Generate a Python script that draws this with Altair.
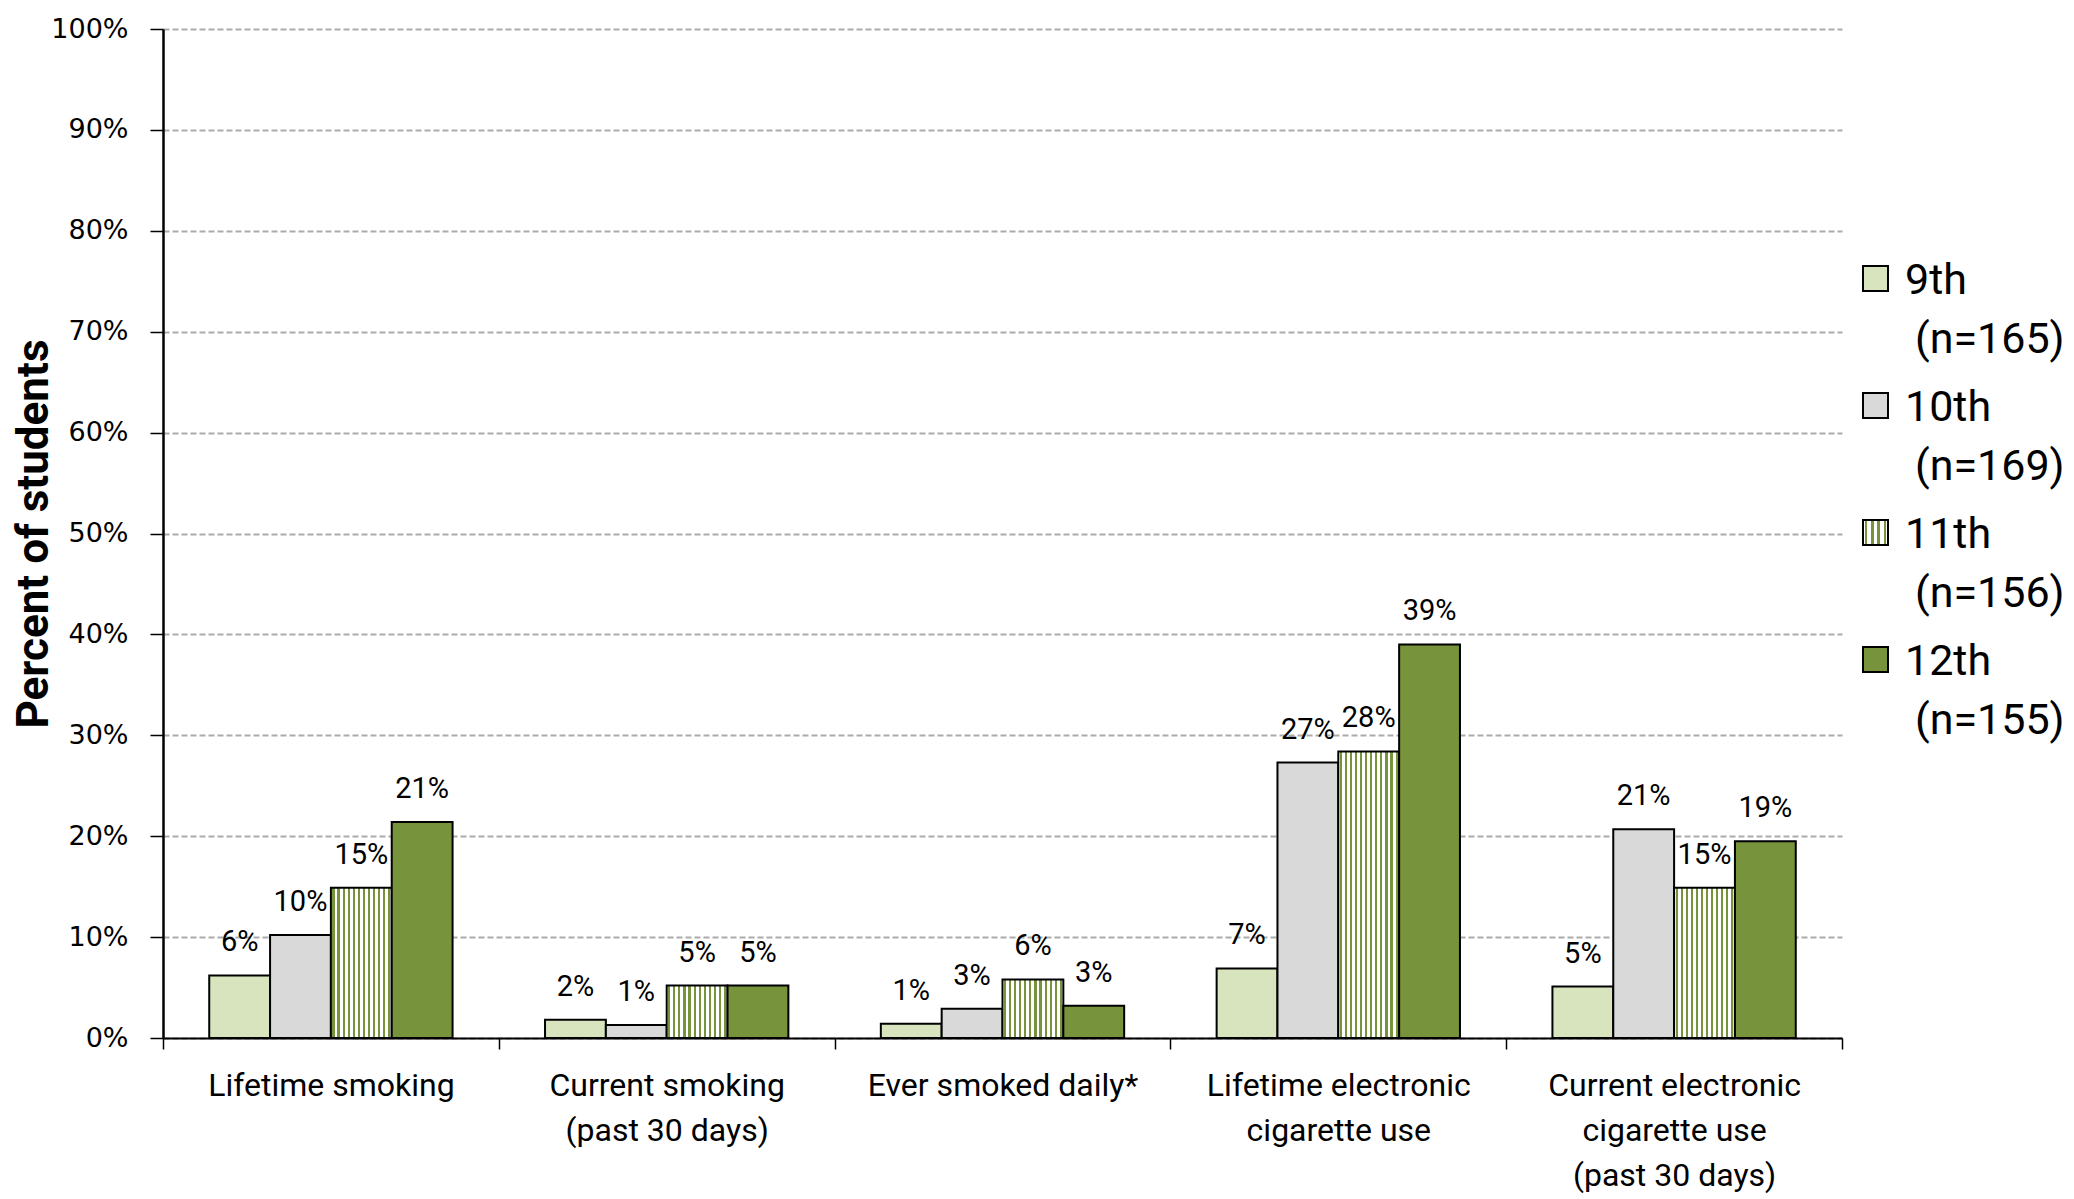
import altair as alt
import pandas as pd

categories = [
    "Lifetime smoking",
    "Current smoking|(past 30 days)",
    "Ever smoked daily*",
    "Lifetime electronic|cigarette use",
    "Current electronic|cigarette use|(past 30 days)",
]
grades = ["9th", "10th", "11th", "12th"]
grade_n = [165, 169, 156, 155]

values_9th = [6.2, 1.8, 1.4, 6.9, 5.1]
values_10th = [10.2, 1.3, 2.9, 27.3, 20.7]
values_11th = [14.9, 5.2, 5.8, 28.4, 14.9]
values_12th = [21.4, 5.2, 3.2, 39.0, 19.5]

labels_9th = ["6%", "2%", "1%", "7%", "5%"]
labels_10th = ["10%", "1%", "3%", "27%", "21%"]
labels_11th = ["15%", "5%", "6%", "28%", "15%"]
labels_12th = ["21%", "5%", "3%", "39%", "19%"]

y_ticks = [0, 10, 20, 30, 40, 50, 60, 70, 80, 90, 100]

fill_colors = ["#d7e4bd", "#d9d9d9", "#ffffff", "#77933c"]
stripe_color = "#77933c"

rows = []
for g, vals, labs in zip(
    grades,
    [values_9th, values_10th, values_11th, values_12th],
    [labels_9th, labels_10th, labels_11th, labels_12th],
):
    for c, v, l in zip(categories, vals, labs):
        rows.append({"category": c, "grade": g, "value": v, "label": l})
df = pd.DataFrame(rows)

legend_df = pd.DataFrame(
    {"grade": grades, "line1": grades, "line2": [f"(n={n})" for n in grade_n]}
)


def stripes(n, frac=0.42):
    stops = [{"offset": 0, "color": "#ffffff"}]
    for k in range(n):
        a = (k + 0.5 - frac / 2) / n
        b = (k + 0.5 + frac / 2) / n
        stops += [
            {"offset": round(a, 4), "color": "#ffffff"},
            {"offset": round(a, 4), "color": stripe_color},
            {"offset": round(b, 4), "color": stripe_color},
            {"offset": round(b, 4), "color": "#ffffff"},
        ]
    stops.append({"offset": 1, "color": "#ffffff"})
    return {"gradient": "linear", "x1": 0, "y1": 0, "x2": 1, "y2": 0, "stops": stops}


bar_stripes = stripes(12)
leg_stripes = stripes(4)


def js_obj(o):
    if isinstance(o, dict):
        return "{" + ", ".join(f"{k}: {js_obj(v)}" for k, v in o.items()) + "}"
    if isinstance(o, list):
        return "[" + ", ".join(js_obj(v) for v in o) + "]"
    if isinstance(o, str):
        return "'" + o + "'"
    return str(o)


fill_range = [fill_colors[0], fill_colors[1], {"expr": js_obj(leg_stripes)}, fill_colors[3]]
fill_scale = alt.Scale(domain=grades, range=fill_range)

x_enc = alt.X(
    "category:N",
    sort=categories,
    scale=alt.Scale(paddingInner=0, paddingOuter=0),
    axis=alt.Axis(
        title=None,
        labelExpr="split(datum.label, '|')",
        labelAngle=0,
        tickBand="extent",
        labelFont="Roboto",
        labelFontSize=32,
        labelLineHeight=45,
        labelPadding=21,
        labelColor="black",
        labelLimit=500,
        tickSize=11,
        tickColor="black",
        tickWidth=1.5,
        domainColor="black",
        domainWidth=2,
        grid=False,
    ),
)
xo_enc = alt.XOffset(
    "grade:N", sort=grades, scale=alt.Scale(paddingInner=0, paddingOuter=0.76)
)
y_enc = alt.Y(
    "value:Q",
    scale=alt.Scale(domain=[0, 100]),
    title="Percent of students",
    axis=alt.Axis(
        values=y_ticks,
        labelExpr="datum.value + '%'",
        labelFont="DejaVu Sans",
        labelFontSize=27,
        labelColor="black",
        labelPadding=22,
        tickSize=13,
        tickColor="black",
        tickWidth=1.5,
        domainColor="black",
        domainWidth=2.5,
        grid=True,
        gridColor="#ababab",
        gridDash=[6, 3],
        gridWidth=1.8,
        titleFont="Roboto",
        titleFontSize=44,
        titleFontWeight="bold",
        titleColor="black",
        titlePadding=-6,
    ),
)

fill_enc = alt.condition(
    "datum.grade === '11th'",
    alt.value(bar_stripes),
    alt.Fill("grade:N", scale=fill_scale, legend=None),
)

base = alt.Chart(df)
bars = base.mark_bar(stroke="black", strokeWidth=2).encode(
    x=x_enc, xOffset=xo_enc, y=y_enc, fill=fill_enc
)
texts = base.mark_text(
    font="Roboto", fontSize=29, baseline="alphabetic", dy=-24, color="black"
).encode(x=x_enc, xOffset=xo_enc, y=y_enc, text="label:N")

# custom legend (entries placed by a point scale)
leg_y = alt.Y(
    "grade:N",
    sort=grades,
    scale=alt.Scale(domain=grades, range=[249.5, 630.5], padding=0),
    axis=None,
)
leg_base = alt.Chart(legend_df)
leg_sym = leg_base.mark_square(size=625, stroke="black", strokeWidth=2, opacity=1).encode(
    x=alt.value(1712.5),
    y=leg_y,
    fill=alt.Fill("grade:N", scale=fill_scale, legend=None),
)
leg_t1 = leg_base.mark_text(
    font="Roboto", fontSize=43, align="left", baseline="alphabetic", dy=15.5, color="black"
).encode(x=alt.value(1742), y=leg_y, text="line1:N")
leg_t2 = leg_base.mark_text(
    font="Roboto", fontSize=43, align="left", baseline="alphabetic", dy=74.5, color="black"
).encode(x=alt.value(1752), y=leg_y, text="line2:N")

main = alt.layer(bars, texts)
legend = alt.layer(leg_sym, leg_t1, leg_t2)

chart = (
    alt.layer(main, legend)
    .resolve_scale(y="independent")
    .properties(
        width=1679,
        height=1009,
        autosize=alt.AutoSizeParams(type="none"),
        padding={"left": 155, "top": 21, "right": 224, "bottom": 160},
    )
    .configure_view(strokeWidth=0)
)

chart.save("out.html", embed_options={"renderer": "svg", "actions": False})
